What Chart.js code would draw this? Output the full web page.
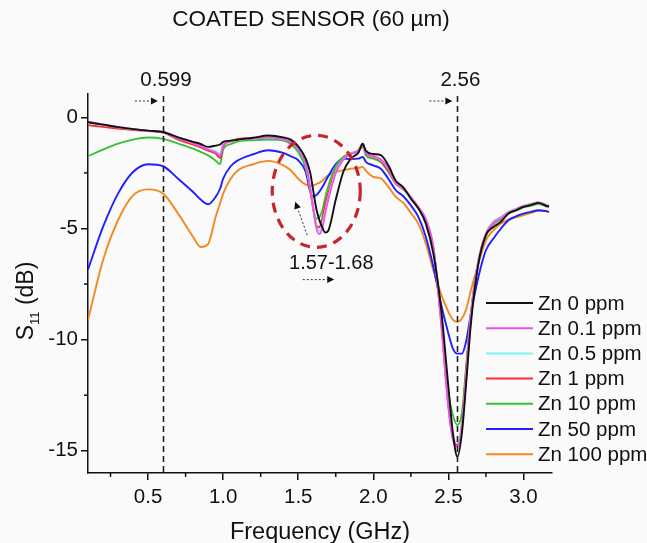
<!DOCTYPE html>
<html>
<head>
<meta charset="utf-8">
<title>Coated sensor S11</title>
<script src="https://cdn.jsdelivr.net/npm/chart.js@4/dist/chart.umd.min.js"></script>
<style>
  html, body { margin: 0; padding: 0; background: #fafafa; }
  canvas { display: block; }
</style>
</head>
<body>
<canvas id="s11Chart" width="647" height="543"></canvas>
<script>
// frequency points (GHz)
const freqGHz = [0.1, 0.2, 0.3, 0.4, 0.5, 0.6, 0.7, 0.8, 0.85, 0.9, 0.95, 0.98, 1.0, 1.05, 1.1, 1.2, 1.3, 1.4, 1.45, 1.5,
  1.55, 1.58, 1.6, 1.62, 1.64, 1.66, 1.68, 1.7, 1.75, 1.8, 1.85, 1.9, 1.93, 1.95, 2.0, 2.05, 2.1, 2.15, 2.2, 2.25,
  2.3, 2.35, 2.4, 2.45, 2.5, 2.53, 2.56, 2.59, 2.62, 2.65, 2.7, 2.75, 2.8, 2.85, 2.9, 2.95, 3.0, 3.05, 3.1, 3.15, 3.17];

// S11 (dB) per Zn concentration
const zn0 = [-0.22, -0.33, -0.44, -0.53, -0.6, -0.66, -0.9, -1.1, -1.2, -1.33, -1.27, -1.22, -1.1, -1.05, -1.0, -0.92, -0.82, -0.9, -1.0, -1.3,
  -1.86, -2.5, -3.3, -4.1, -4.6, -4.95, -5.18, -5.1, -3.7, -2.46, -1.86, -1.6, -1.2, -1.5, -1.65, -1.7, -2.16, -2.85, -3.15, -3.66,
  -4.1, -4.78, -6.13, -8.52, -12.12, -14.2, -15.27, -14.2, -11.82, -9.27, -6.58, -5.3, -4.93, -4.7, -4.33, -4.18, -4.03, -3.95, -3.85, -3.98, -4.0];
const zn01 = [-0.2, -0.32, -0.43, -0.52, -0.6, -0.66, -0.95, -1.17, -1.3, -1.45, -1.57, -1.72, -1.25, -1.07, -1.0, -0.95, -0.9, -0.98, -1.1, -1.4,
  -2.1, -3.2, -4.1, -4.95, -5.25, -5.0, -4.3, -3.7, -2.5, -1.9, -1.65, -1.5, -1.22, -1.6, -1.75, -1.9, -2.3, -2.95, -3.2, -3.6,
  -4.05, -4.6, -5.9, -9.0, -13.0, -14.5, -14.8, -14.0, -11.6, -9.0, -6.5, -5.25, -4.75, -4.55, -4.28, -4.15, -4.0, -3.92, -3.85, -3.95, -4.0];
const zn05 = [-0.24, -0.35, -0.45, -0.54, -0.61, -0.66, -0.93, -1.15, -1.27, -1.42, -1.52, -1.65, -1.22, -1.06, -1.0, -0.95, -0.9, -0.98, -1.1, -1.4,
  -2.1, -3.2, -4.05, -4.9, -5.1, -4.8, -4.2, -3.6, -2.45, -1.88, -1.64, -1.5, -1.22, -1.6, -1.76, -1.92, -2.3, -2.95, -3.2, -3.62,
  -4.05, -4.6, -5.9, -8.9, -12.8, -14.3, -14.6, -13.9, -11.5, -8.95, -6.45, -5.22, -4.72, -4.52, -4.26, -4.13, -3.98, -3.9, -3.84, -3.94, -3.98];
const zn1 = [-0.35, -0.43, -0.5, -0.57, -0.62, -0.68, -1.0, -1.23, -1.35, -1.5, -1.63, -1.83, -1.3, -1.08, -0.96, -0.93, -0.9, -0.95, -1.11, -1.41,
  -2.1, -3.3, -4.1, -4.85, -4.95, -4.55, -3.9, -3.4, -2.4, -1.86, -1.63, -1.48, -1.18, -1.63, -1.78, -1.97, -2.38, -2.98, -3.21, -3.6,
  -4.05, -4.6, -5.83, -9.12, -13.0, -14.4, -14.74, -13.76, -11.22, -8.82, -6.43, -5.23, -4.7, -4.5, -4.26, -4.12, -3.98, -3.9, -3.83, -3.93, -4.0];
const zn10 = [-1.75, -1.45, -1.18, -1.0, -0.91, -0.97, -1.18, -1.41, -1.55, -1.71, -1.95, -2.1, -1.45, -1.2, -1.08, -1.03, -1.0, -1.05, -1.2, -1.56,
  -2.3, -3.2, -4.1, -4.55, -4.5, -4.2, -3.6, -3.1, -2.2, -1.78, -1.63, -1.53, -1.33, -1.71, -1.86, -2.01, -2.46, -2.98, -3.25, -3.6,
  -4.05, -4.65, -5.97, -8.82, -12.4, -13.4, -13.84, -13.3, -11.07, -8.82, -6.5, -5.3, -4.8, -4.6, -4.33, -4.2, -4.05, -3.97, -3.9, -4.0, -4.05];
const zn50 = [-6.85, -4.93, -3.43, -2.46, -2.11, -2.2, -2.76, -3.36, -3.7, -3.91, -3.58, -3.2, -2.76, -2.2, -1.93, -1.66, -1.48, -1.6, -1.75, -1.93,
  -2.46, -3.35, -3.58, -3.5, -3.35, -3.15, -2.9, -2.65, -2.1, -1.86, -1.88, -1.86, -1.78, -2.0, -2.16, -2.31, -2.76, -3.28, -3.55, -3.96,
  -4.48, -5.38, -6.73, -8.37, -9.72, -10.4, -10.63, -10.63, -10.02, -8.82, -7.18, -5.98, -5.45, -5.0, -4.63, -4.45, -4.33, -4.25, -4.18, -4.22, -4.25];
const zn100 = [-9.12, -6.43, -4.63, -3.51, -3.24, -3.43, -4.33, -5.38, -5.83, -5.7, -4.48, -3.85, -3.43, -2.76, -2.38, -2.11, -1.96, -2.16, -2.38, -2.76,
  -3.03, -3.09, -3.07, -3.0, -2.95, -2.85, -2.72, -2.61, -2.46, -2.38, -2.31, -2.28, -2.23, -2.4, -2.68, -2.75, -3.13, -3.58, -3.85, -4.3,
  -4.78, -5.68, -6.88, -7.92, -8.75, -9.1, -9.2, -9.05, -8.6, -7.78, -6.58, -5.53, -5.08, -4.78, -4.6, -4.5, -4.4, -4.3, -4.2, -4.22, -4.25];

const seriesLabels = ['Zn 0 ppm', 'Zn 0.1 ppm', 'Zn 0.5 ppm', 'Zn 1 ppm', 'Zn 10 ppm', 'Zn 50 ppm', 'Zn 100 ppm'];
const seriesColors = ['#111111', '#f050f0', '#80f2f2', '#ff2a2a', '#33c233', '#1f1fff', '#f5871f'];
const seriesValues = [zn0, zn01, zn05, zn1, zn10, zn50, zn100];

const xTickValues = [0.5, 1.0, 1.5, 2.0, 2.5, 3.0];
const xMinorTicks = [0.25, 0.75, 1.25, 1.75, 2.25, 2.75];
const yTickValues = [-15, -10, -5, 0];
const yMinorTicks = [-12.5, -7.5, -2.5];

// resonance markers
const markerFreqs = [0.599, 2.56];
const markerLabels = ['0.599', '2.56'];
const shiftLabel = '1.57-1.68';

const FONT = '"Liberation Sans", Arial, sans-serif';

function dottedArrow(ctx, x1, y1, x2, y2) {
    const ang = Math.atan2(y2 - y1, x2 - x1);
    const head = 7;
    ctx.save();
    ctx.strokeStyle = '#333';
    ctx.fillStyle = '#111';
    ctx.lineWidth = 1;
    ctx.setLineDash([2, 2]);
    ctx.beginPath();
    ctx.moveTo(x1, y1);
    ctx.lineTo(x2 - head * Math.cos(ang), y2 - head * Math.sin(ang));
    ctx.stroke();
    ctx.setLineDash([]);
    ctx.beginPath();
    ctx.moveTo(x2, y2);
    ctx.lineTo(x2 - head * Math.cos(ang) + 3.5 * Math.sin(ang), y2 - head * Math.sin(ang) - 3.5 * Math.cos(ang));
    ctx.lineTo(x2 - head * Math.cos(ang) - 3.5 * Math.sin(ang), y2 - head * Math.sin(ang) + 3.5 * Math.cos(ang));
    ctx.closePath();
    ctx.fill();
    ctx.restore();
}

const extras = {
    id: 'extras',
    beforeDraw(chart) {
        const ctx = chart.ctx;
        ctx.save();
        ctx.fillStyle = '#fafafa';
        ctx.fillRect(0, 0, chart.width, chart.height);
        ctx.restore();
    },
    afterDatasetsDraw(chart) {
        const { ctx, chartArea } = chart;
        const x = chart.scales.x, y = chart.scales.y;
        ctx.save();
        ctx.strokeStyle = '#222';
        ctx.lineWidth = 1.6;
        ctx.setLineDash([6, 4]);
        markerFreqs.forEach(f => {
            const px = Math.round(x.getPixelForValue(f)) + 0.5;
            ctx.beginPath();
            ctx.moveTo(px, chartArea.top + 2);
            ctx.lineTo(px, chartArea.bottom + 3);
            ctx.stroke();
        });
        ctx.restore();

        // red dashed ring round the first shifted dip
        ctx.save();
        ctx.strokeStyle = '#c4262a';
        ctx.lineWidth = 3.2;
        ctx.setLineDash([10, 7]);
        ctx.beginPath();
        ctx.ellipse(x.getPixelForValue(1.62), y.getPixelForValue(-3.33), 44, 56, 0, 0, Math.PI * 2);
        ctx.stroke();
        ctx.restore();
    },
    afterDraw(chart) {
        const { ctx, chartArea } = chart;
        const x = chart.scales.x, y = chart.scales.y;

        // minor ticks
        ctx.save();
        ctx.strokeStyle = '#111';
        ctx.lineWidth = 1.5;
        xMinorTicks.forEach(v => {
            const px = x.getPixelForValue(v);
            ctx.beginPath();
            ctx.moveTo(px, chartArea.bottom);
            ctx.lineTo(px, chartArea.bottom + 4);
            ctx.stroke();
        });
        yMinorTicks.forEach(v => {
            const py = y.getPixelForValue(v);
            ctx.beginPath();
            ctx.moveTo(chartArea.left, py);
            ctx.lineTo(chartArea.left - 4, py);
            ctx.stroke();
        });
        ctx.restore();

        ctx.save();
        ctx.fillStyle = '#111';
        ctx.textAlign = 'center';
        ctx.textBaseline = 'alphabetic';

        // title
        ctx.font = '22.5px ' + FONT;
        ctx.fillText('COATED SENSOR (60 µm)', 311, 26);

        // marker labels and arrows
        ctx.font = '20.5px ' + FONT;
        markerFreqs.forEach((f, i) => {
            const px = x.getPixelForValue(f);
            ctx.fillText(markerLabels[i], px + 3, 86);
            dottedArrow(ctx, px - 28, chartArea.top + 7, px - 5, chartArea.top + 7);
        });

        // shift label
        ctx.font = '20px ' + FONT;
        ctx.fillText(shiftLabel, x.getPixelForValue(1.72), y.getPixelForValue(-6.5) + 7);
        dottedArrow(ctx, x.getPixelForValue(1.53), y.getPixelForValue(-7.3), x.getPixelForValue(1.74), y.getPixelForValue(-7.3));
        dottedArrow(ctx, x.getPixelForValue(1.56), y.getPixelForValue(-5.3), x.getPixelForValue(1.48), y.getPixelForValue(-3.8));

        // x title
        ctx.font = '23.5px ' + FONT;
        ctx.fillText('Frequency (GHz)', 320, 539);

        // y title with subscript
        ctx.save();
        ctx.translate(33, 301);
        ctx.rotate(-Math.PI / 2);
        ctx.textAlign = 'left';
        ctx.font = '23px ' + FONT;
        const wS = ctx.measureText('S').width;
        const wRest = ctx.measureText(' (dB)').width;
        ctx.font = '13px ' + FONT;
        const wSub = ctx.measureText('11').width;
        let cx = -(wS + wSub + wRest) / 2;
        ctx.font = '23px ' + FONT;
        ctx.fillText('S', cx, 0);
        cx += wS;
        ctx.font = '13px ' + FONT;
        ctx.fillText('11', cx, 6);
        cx += wSub;
        ctx.font = '23px ' + FONT;
        ctx.fillText(' (dB)', cx, 0);
        ctx.restore();

        // legend
        ctx.textAlign = 'left';
        ctx.textBaseline = 'middle';
        ctx.font = '20.5px ' + FONT;
        chart.data.datasets.forEach((ds, i) => {
            const ly = 303 + i * 25.2;
            ctx.strokeStyle = ds.borderColor;
            ctx.lineWidth = 2;
            ctx.beginPath();
            ctx.moveTo(486, ly);
            ctx.lineTo(533, ly);
            ctx.stroke();
            ctx.fillStyle = '#111';
            ctx.fillText(ds.label, 538, ly + 1);
        });
        ctx.restore();
    }
};

const datasets = seriesValues.map((vals, i) => ({
    label: seriesLabels[i],
    data: freqGHz.map((f, j) => ({ x: f, y: vals[j] })),
    borderColor: seriesColors[i],
    backgroundColor: seriesColors[i],
    borderWidth: 1.9,
    pointRadius: 0,
    fill: false,
    cubicInterpolationMode: 'monotone'
}));

const ctx = document.getElementById('s11Chart').getContext('2d');
new Chart(ctx, {
    type: 'line',
    data: { datasets: datasets },
    options: {
        responsive: false,
        animation: false,
        layout: { padding: { top: 94, right: 95, left: 0, bottom: 0 } },
        plugins: {
            legend: { display: false },
            tooltip: { enabled: false },
            title: { display: false }
        },
        scales: {
            x: {
                type: 'linear',
                min: 0.1,
                max: 3.19,
                afterFit: s => { s.height = 70; },
                afterBuildTicks: s => { s.ticks = xTickValues.map(v => ({ value: v })); },
                border: { display: true, color: '#111', width: 1.5 },
                grid: { display: true, drawOnChartArea: false, drawTicks: true, tickLength: 7, color: '#111', lineWidth: 1.5 },
                ticks: {
                    color: '#111',
                    padding: 5,
                    maxRotation: 0,
                    font: { family: FONT, size: 20.5 },
                    callback: v => Number(v).toFixed(1)
                }
            },
            y: {
                type: 'linear',
                min: -16,
                max: 1.05,
                afterFit: s => { s.width = 88; },
                afterBuildTicks: s => { s.ticks = yTickValues.map(v => ({ value: v })); },
                border: { display: true, color: '#111', width: 1.5 },
                grid: { display: true, drawOnChartArea: false, drawTicks: true, tickLength: 7, color: '#111', lineWidth: 1.5 },
                ticks: {
                    color: '#111',
                    padding: 3,
                    font: { family: FONT, size: 20.5 },
                    callback: v => String(v)
                }
            }
        }
    },
    plugins: [extras]
});
</script>
</body>
</html>
